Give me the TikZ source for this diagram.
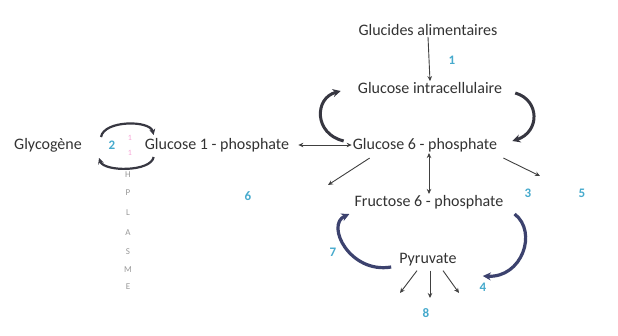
\documentclass[tikz,border=0pt]{standalone}
\usepackage{fontspec}
\setmainfont{Carlito}
\usetikzlibrary{arrows.meta}
\definecolor{numc}{RGB}{70,170,205}
\definecolor{arcc}{RGB}{55,55,65}
\definecolor{arcb}{RGB}{60,66,110}
\begin{document}
\begin{tikzpicture}[x=1pt,y=-1pt,
 lbl/.style={font=\fontsize{16}{18}\selectfont, text=black!80, inner sep=1pt},
 num/.style={font=\bfseries\fontsize{13}{15}\selectfont, text=numc, inner sep=1pt},
 arr/.style={draw=black!75, line width=0.9pt, -{Stealth[length=5pt,width=4.5pt]}},
 arrboth/.style={draw=black!75, line width=0.9pt, {Stealth[length=5pt,width=4.5pt]}-{Stealth[length=5pt,width=4.5pt]}},
 bigarc/.style={draw=arcc, line width=3pt, -{Stealth[length=8pt,width=8pt]}},
 bluearc/.style={draw=arcb, line width=3.2pt, -{Stealth[length=8pt,width=8pt]}},
 smallarc/.style={draw=arcc, line width=2.2pt, -{Stealth[length=6pt,width=6pt]}},
 letter/.style={font=\fontsize{9}{10}\selectfont, text=black!40, inner sep=0pt},
 pinkmark/.style={font=\fontsize{8}{9}\selectfont, text=magenta!35, inner sep=0pt}]
\useasboundingbox (0,0) rectangle (618,335);
\fill[white] (0,0) rectangle (618,335);

% main nodes
\node[lbl] (gal)  at (428,30)  {Glucides alimentaires};
\node[lbl] (gint) at (430,88)  {Glucose intracellulaire};
\node[lbl] (g6p)  at (425,145) {Glucose 6 - phosphate};
\node[lbl] (f6p)  at (429,202) {Fructose 6 - phosphate};
\node[lbl] (pyr)  at (428,260) {Pyruvate};
\node[lbl] (g1p)  at (217,145) {Glucose 1 - phosphate};
\node[lbl] (glyc) at (48,145)  {Glycogène};

% numbers
\node[num] (n1) at (452,60)  {1};
\node[num] (n2) at (112,145) {2};
\node[num] (n3) at (528,193) {3};
\node[num] (n4) at (483,287) {4};
\node[num] (n5) at (582,193) {5};
\node[num] (n6) at (248,196) {6};
\node[num] (n7) at (333,252) {7};
\node[num] (n8) at (426,313) {8};

% small marks near 2
\node[pinkmark] (m1) at (130,138) {1};
\node[pinkmark] (m2) at (130,153) {1};

% vertical letters
\node[letter] (l1) at (128,175) {H};
\node[letter] (l2) at (128,193) {P};
\node[letter] (l3) at (128,213) {L};
\node[letter] (l4) at (128,233) {A};
\node[letter] (l5) at (128,252) {S};
\node[letter] (l6) at (128,270) {M};
\node[letter] (l7) at (128,287) {E};

% free ends
\coordinate (dl) at (328,185);
\coordinate (dr) at (540,176);
\coordinate (p1) at (400,293);
\coordinate (p2) at (430,298);
\coordinate (p3) at (459,293);

% straight connectors
\draw[arr] (gal.south) -- (gint.north);
\draw[arrboth, shorten <=8pt] (g1p.east) -- (g6p.west);
\draw[arrboth] ([xshift=4pt]g6p.south) -- ([xshift=0pt]f6p.north);
\draw[arr] ([shift={(18,5)}]g6p.south west) -- (dl);
\draw[arr] ([shift={(5,5)}]g6p.south east) -- (dr);
\draw[arr] ([shift={(-11,3)}]pyr.south) -- (p1);
\draw[arr] ([shift={(2,3)}]pyr.south) -- (p2);
\draw[arr] ([shift={(15,3)}]pyr.south) -- (p3);

% curved arcs
\draw[bigarc] ([shift={(-8,-4)}]g6p.west) .. controls (314,134) and (314,98) .. ([shift={(-16,3)}]gint.west);
\draw[bigarc] ([shift={(12,5)}]gint.east) .. controls (540,100) and (540,132) .. ([shift={(14,-4)}]g6p.east);
\draw[bluearc] ([shift={(-7,7)}]pyr.west) .. controls (350,274) and (325,225) .. ([shift={(-4,12)}]f6p.west);
\draw[bluearc] ([shift={(10,12)}]f6p.east) .. controls (538,232) and (522,278) .. ([shift={(25,16)}]pyr.east);

% glycogen arcs
\draw[smallarc] ([shift={(18,-8)}]glyc.east) .. controls (104,120) and (150,120) .. ([shift={(10,-10)}]g1p.west);
\draw[smallarc] ([shift={(10,12)}]g1p.west) .. controls (151,172) and (104,172) .. ([shift={(16,13)}]glyc.east);
\end{tikzpicture}
\end{document}
